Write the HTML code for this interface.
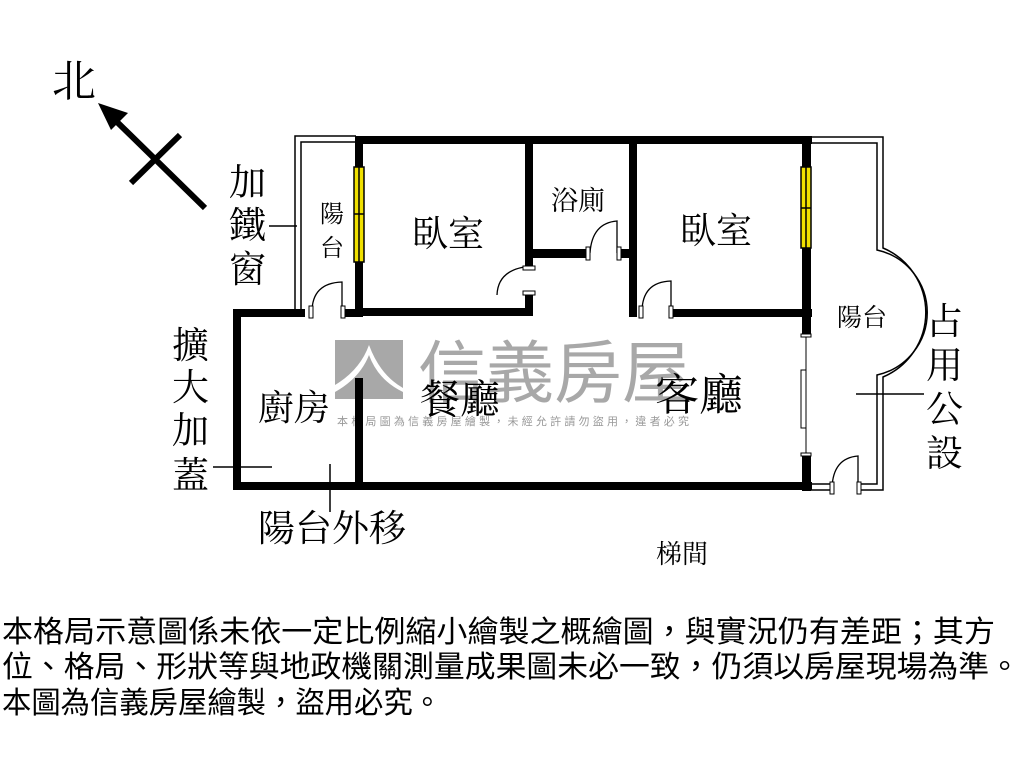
<!DOCTYPE html>
<html><head><meta charset="utf-8"><style>
html,body{margin:0;padding:0;background:#fff;width:1024px;height:768px;overflow:hidden}
svg{display:block}
text{font-family:"Liberation Serif","Noto Serif CJK SC","Noto Sans CJK TC",serif;fill:#000}
.ft{font-family:"Liberation Sans","Noto Sans CJK TC",sans-serif;font-size:30px}
</style></head><body>
<svg width="1024" height="768" viewBox="0 0 1024 768" xmlns="http://www.w3.org/2000/svg">
<text x="52" y="96" font-size="44">北</text>
<line x1="205" y1="208" x2="115" y2="120" stroke="#000" stroke-width="6"/>
<polygon points="98,103 128,113 111,130" fill="#000"/>
<line x1="131" y1="183" x2="180" y2="135" stroke="#000" stroke-width="6"/>

<rect x="335" y="340" width="68" height="59" fill="#a8a8a8"/>
<path d="M335,385 Q360,370 369,345 Q380,375 403,388 L403,392 Q378,380 369,355 Q360,378 335,392Z" fill="#fff"/>
<text x="418" y="397" font-size="68" textLength="272" style="fill:#a8a8a8;font-family:'Liberation Sans','Noto Sans CJK TC',sans-serif">信義房屋</text>
<text x="337" y="425" font-size="11" textLength="352" style="fill:#999;font-family:'Liberation Sans','Noto Sans CJK TC',sans-serif">本格局圖為信義房屋繪製，未經允許請勿盜用，違者必究</text>

<g fill="none" stroke="#000">
<path d="M295,312 V136 H356" stroke-width="1.5"/>
<path d="M301,312 V142 H356" stroke-width="1.5"/>
<path d="M808,137 H883 V248 A70,70 0 0 1 883,377 V490 H858" stroke-width="1.5"/>
<path d="M808,143 H877 V250 A64,64 0 0 1 877,375 V484 H858" stroke-width="1.5"/>
<path d="M808,484 H830 M808,490 H830" stroke-width="1.5"/>
</g>

<g fill="#000">
<rect x="355" y="136" width="457" height="8"/>
<rect x="355" y="136" width="8" height="180"/>
<rect x="355" y="308" width="178" height="8"/>
<rect x="525" y="136" width="8" height="132"/>
<rect x="525" y="294" width="8" height="22"/>
<rect x="525" y="249" width="64" height="9"/>
<rect x="617" y="249" width="18" height="9"/>
<rect x="629" y="136" width="8" height="181"/>
<rect x="670" y="309" width="142" height="8"/>
<rect x="802" y="136" width="9" height="200"/>
<rect x="802" y="455" width="9" height="36"/>
<rect x="233" y="309" width="8" height="181"/>
<rect x="233" y="309" width="72" height="8"/>
<rect x="345" y="309" width="18" height="8"/>
<rect x="233" y="482" width="579" height="8"/>
<rect x="355" y="378" width="8" height="112"/>
</g>

<g stroke="#000" stroke-width="1.5" fill="#f0e000">
<rect x="354" y="167" width="10" height="95"/>
<line x1="359" y1="167" x2="359" y2="262"/><line x1="354" y1="214" x2="364" y2="214"/>
<rect x="801" y="167" width="10" height="81"/>
<line x1="806" y1="167" x2="806" y2="248"/><line x1="801" y1="208" x2="811" y2="208"/>
</g>
<g stroke="#000" stroke-width="1" fill="#fff">
<line x1="806" y1="336" x2="806" y2="455"/>
<rect x="801" y="370" width="5" height="58"/>
<rect x="801" y="334" width="10" height="3"/>
<rect x="801" y="453" width="10" height="3"/>
</g>

<g fill="none" stroke="#000" stroke-width="1.3">
<path d="M312,312 Q312,283 342,282 V312"/>
<path d="M497,295 Q498,268 533,266"/>
<path d="M590,253 Q592,223 617,221 V253"/>
<path d="M642,312 Q642,282 671,281 V312"/>
<path d="M832,488 Q833,458 858,456 V488"/>
</g>
<g fill="#fff" stroke="#000" stroke-width="1">
<rect x="309" y="306" width="4" height="12"/><rect x="341" y="306" width="4" height="12"/>
<rect x="586" y="247" width="4" height="13"/><rect x="617" y="247" width="4" height="13"/>
<rect x="639" y="306" width="4" height="12"/><rect x="669" y="306" width="4" height="12"/>
<rect x="830" y="482" width="4" height="12"/><rect x="857" y="482" width="4" height="12"/>
<rect x="523" y="266" width="12" height="4"/><rect x="523" y="291" width="12" height="4"/>
</g>

<text x="412" y="246" font-size="36">臥室</text>
<text x="551" y="210" font-size="27">浴廁</text>
<text x="680" y="243" font-size="36">臥室</text>
<text x="320" y="222" font-size="24">陽</text>
<text x="320" y="256" font-size="24">台</text>
<text x="837" y="326" font-size="25">陽台</text>
<text x="258" y="420" font-size="36">廚房</text>
<text x="420" y="413" font-size="40">餐廳</text>
<text x="655" y="410" font-size="44">客廳</text>
<text x="656" y="563" font-size="26">梯間</text>

<text x="229" y="195" font-size="37">加</text>
<text x="229" y="238" font-size="37">鐵</text>
<text x="229" y="282" font-size="37">窗</text>
<line x1="269" y1="226" x2="297" y2="226" stroke="#000" stroke-width="1.5"/>

<text x="172" y="358" font-size="37">擴</text>
<text x="172" y="400" font-size="37">大</text>
<text x="172" y="443" font-size="37">加</text>
<text x="172" y="488" font-size="37">蓋</text>
<line x1="213" y1="467" x2="272" y2="467" stroke="#000" stroke-width="1.5"/>
<line x1="330" y1="464" x2="330" y2="512" stroke="#000" stroke-width="1.5"/>
<text x="258" y="541" font-size="37">陽台外移</text>

<text x="926" y="334" font-size="37">占</text>
<text x="926" y="378" font-size="37">用</text>
<text x="926" y="422" font-size="37">公</text>
<text x="926" y="466" font-size="37">設</text>
<line x1="856" y1="394" x2="924" y2="394" stroke="#000" stroke-width="1.5"/>

<text class="ft" x="2" y="642" textLength="993" lengthAdjust="spacingAndGlyphs">本格局示意圖係未依一定比例縮小繪製之概繪圖，與實況仍有差距；其方</text>
<text class="ft" x="2" y="677" textLength="1018" lengthAdjust="spacingAndGlyphs">位、格局、形狀等與地政機關測量成果圖未必一致，仍須以房屋現場為準。</text>
<text class="ft" x="2" y="713" textLength="440" lengthAdjust="spacingAndGlyphs">本圖為信義房屋繪製，盜用必究。</text>
</svg>
</body></html>
